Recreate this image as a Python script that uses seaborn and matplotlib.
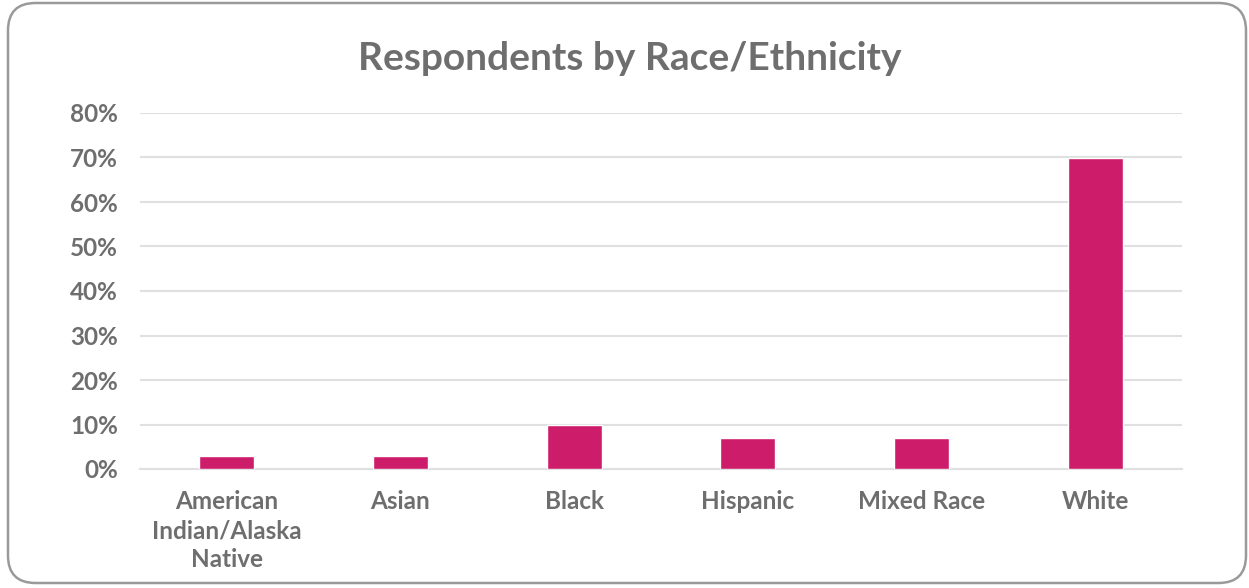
import matplotlib
matplotlib.use("Agg")
import matplotlib.pyplot as plt
import seaborn as sns
import pandas as pd
from matplotlib.patches import FancyBboxPatch
from matplotlib.ticker import FuncFormatter, MultipleLocator

categories = ["American\nIndian/Alaska\nNative", "Asian", "Black", "Hispanic", "Mixed Race", "White"]
values = [0.03, 0.03, 0.10, 0.07, 0.07, 0.70]
title = "Respondents by Race/Ethnicity"

sns.set_theme(style="white")
plt.rcParams["font.family"] = ["Lato", "DejaVu Sans"]

df = pd.DataFrame({"category": categories, "value": values})

W, H = 1249, 588
fig = plt.figure(figsize=(W / 100, H / 100), dpi=100)
fig.patch.set_facecolor("white")

frame = FancyBboxPatch((8 / W, 5 / H), (1238 / W), (580 / H),
                       boxstyle="round,pad=0,rounding_size=0.022",
                       transform=fig.transFigure, facecolor="none",
                       edgecolor="#9a9a9a", linewidth=1.8, mutation_aspect=W / H,
                       zorder=0)
fig.patches.append(frame)

ax = fig.add_axes([140 / W, 1 - 469 / H, (1182 - 140) / W, (469 - 113) / H])
ax.set_facecolor("none")
sns.barplot(data=df, x="category", y="value", color="#CD1C6A", width=0.315,
            saturation=1, ax=ax, zorder=3)

ax.set_ylim(0, 0.8)
ax.yaxis.set_major_locator(MultipleLocator(0.1))
ax.yaxis.set_major_formatter(FuncFormatter(lambda v, p: f"{v*100:.0f}%"))
ax.grid(axis="y", color="#e0e0e0", linewidth=1.5, zorder=0)
ax.set_axisbelow(True)
for s in ["top", "right", "left"]:
    ax.spines[s].set_visible(False)
ax.spines["bottom"].set_color("#e0e0e0")
ax.spines["bottom"].set_linewidth(1.5)
ax.set_xlabel("")
ax.set_ylabel("")
ax.tick_params(axis="both", length=0, colors="#6e6e6e", labelsize=17.5)
ax.tick_params(axis="y", pad=16)
ax.tick_params(axis="x", pad=15)
for lab in ax.get_xticklabels() + ax.get_yticklabels():
    lab.set_fontweight("bold")
    lab.set_color("#6e6e6e")
for lab in ax.get_xticklabels():
    lab.set_linespacing(1.33)

fig.text(630 / W, 1 - 58 / H, title, ha="center", va="center",
         fontsize=28, fontweight="bold", color="#6e6e6e")

fig.savefig("out.png", dpi=100)
